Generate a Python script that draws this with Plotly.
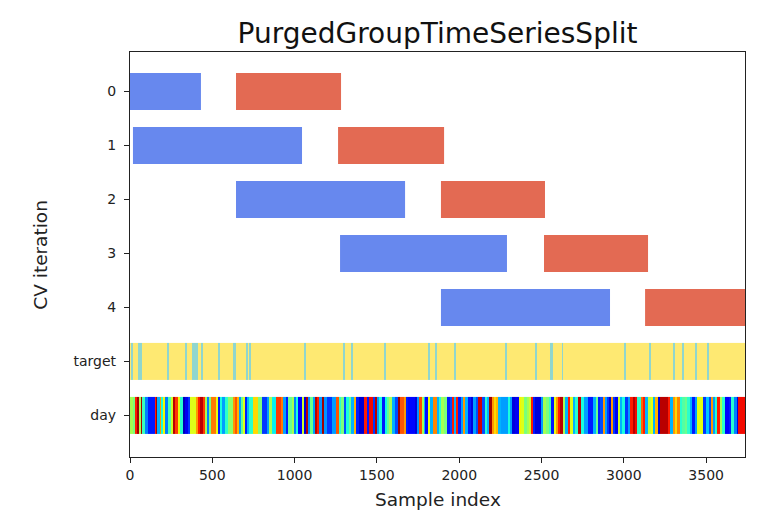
import numpy as np
import plotly.graph_objects as go

# ---------------- data ----------------
n_samples = 3736
row_labels = ["0", "1", "2", "3", "4", "target", "day"]

train_start = [0, 18, 644, 1276, 1889]
train_end = [431, 1045, 1671, 2290, 2916]
test_start = [644, 1264, 1889, 2515, 3129]
test_end = [1282, 1908, 2521, 3147, 3736]

# sample ranges where target == 1
target_pos_start = [8, 47, 227, 332, 378, 433, 535, 628, 703, 723, 1057, 1294, 1341, 1543,
                    1810, 1853, 1966, 2278, 2460, 2551, 2624, 3001, 3153, 3299, 3351, 3432, 3504]
target_pos_end = [20, 75, 239, 344, 411, 445, 547, 644, 715, 735, 1069, 1306, 1353, 1555,
                  1822, 1865, 1978, 2290, 2472, 2568, 2632, 3013, 3165, 3311, 3363, 3444, 3516]

# day groups: first sample of each group and its colour level (jet scale 0-1)
day_start = [0, 16, 33, 43, 53, 65, 75, 93, 109, 150, 160, 166, 182, 190, 199, 215, 231, 247, 261, 276,
             292, 304, 322, 336, 353, 365, 403, 413, 427, 444, 458, 470, 482, 494, 523, 535, 547, 559, 575, 596,
             624, 636, 652, 664, 676, 688, 701, 713, 725, 745, 780, 800, 830, 846, 861, 887, 915, 932, 948, 962,
             982, 996, 1008, 1023, 1043, 1057, 1069, 1081, 1093, 1110, 1126, 1138, 1150, 1164, 1179, 1195, 1230, 1251,
             1268, 1284, 1298, 1312, 1328, 1344, 1359, 1373, 1389, 1419, 1440, 1454, 1474, 1486, 1500, 1515, 1531,
             1547, 1561, 1575, 1592, 1608, 1628, 1642, 1662, 1677, 1689, 1733, 1743, 1758, 1774, 1784, 1794, 1808,
             1824, 1839, 1863, 1879, 1892, 1908, 1924, 1944, 1956, 1969, 1981, 1993, 2009, 2025, 2037, 2054, 2074,
             2086, 2100, 2114, 2141, 2155, 2167, 2181, 2201, 2212, 2224, 2236, 2252, 2297, 2309, 2323, 2337, 2363,
             2378, 2394, 2410, 2424, 2438, 2446, 2463, 2496, 2511, 2527, 2547, 2559, 2577, 2588, 2600, 2612, 2628,
             2640, 2658, 2675, 2693, 2705, 2719, 2739, 2760, 2784, 2814, 2831, 2843, 2855, 2871, 2885, 2899, 2912,
             2924, 2936, 2948, 2962, 2976, 2988, 3009, 3023, 3037, 3057, 3069, 3082, 3106, 3118, 3131, 3147, 3163,
             3177, 3191, 3208, 3220, 3268, 3280, 3299, 3313, 3325, 3339, 3355, 3370, 3386, 3400, 3414, 3430, 3442,
             3483, 3499, 3515, 3527, 3544, 3556, 3568, 3582, 3596, 3613, 3637, 3653, 3669, 3685, 3694]
day_level = [0.55, 0.5, 0.88, 0.97, 0.55, 0.97, 0.42, 0.25, 0.15, 0.88, 0.97, 0.3, 0.75, 0.38, 0.65, 0.25, 0.45, 0.6, 0.95, 0.85,
             0.63, 0.4, 0.05, 0.1, 0.18, 0.62, 0.75, 0.88, 0.95, 0.85, 0.55, 0.25, 0.5, 0.78, 0.63, 0.15, 0.38, 0.28, 0.4, 0.52,
             0.75, 0.82, 0.72, 0.28, 0.48, 0.62, 0.15, 0.3, 0.4, 0.68, 0.5, 0.18, 0.28, 0.55, 0.36, 0.85, 0.78, 0.28, 0.15, 0.48,
             0.55, 0.25, 0.38, 0.12, 0.6, 0.08, 0.95, 0.27, 0.48, 0.28, 0.95, 0.88, 0.27, 0.97, 0.27, 0.18, 0.28, 0.82,
             0.4, 0.5, 0.2, 0.38, 0.48, 0.3, 0.72, 0.15, 0.07, 0.88, 0.15, 0.9, 0.18, 0.95, 0.28, 0.38, 0.15,
             0.37, 0.47, 0.55, 0.3, 0.2, 0.97, 0.82, 0.75, 0.15, 0.13, 0.08, 0.27, 0.83, 0.55, 0.3, 0.13, 0.63,
             0.3, 0.77, 0.3, 0.4, 0.55, 0.5, 0.15, 0.2, 0.88, 0.3, 0.88, 0.15, 0.28, 0.75, 0.3, 0.15, 0.08,
             0.28, 0.2, 0.93, 0.2, 0.4, 0.3, 0.97, 0.75, 0.68, 0.72, 0.3, 0.28, 0.38, 0.28, 0.08, 0.1, 0.65,
             0.62, 0.5, 0.55, 0.6, 0.88, 0.15, 0.08, 0.28, 0.55, 0.5, 0.42, 0.15, 0.63, 0.75, 0.88, 0.95, 0.55,
             0.3, 0.88, 0.62, 0.3, 0.4, 0.95, 0.38, 0.28, 0.15, 0.3, 0.48, 0.15, 0.2, 0.75, 0.28, 0.18, 0.08,
             0.75, 0.18, 0.1, 0.6, 0.3, 0.38, 0.18, 0.28, 0.88, 0.95, 0.9, 0.4, 0.8, 0.88, 0.3, 0.58, 0.63,
             0.3, 0.72, 0.08, 0.95, 0.88, 0.3, 0.75, 0.68, 0.77, 0.4, 0.45, 0.48, 0.4, 0.3, 0.15, 0.28, 0.63,
             0.18, 0.32, 0.2, 0.75, 0.28, 0.4, 0.88, 0.55, 0.4, 0.12, 0.15, 0.4, 0.25, 0.08, 0.9]

# ---------------- styling ----------------
TRAIN_COLOR = "#6788EE"
TEST_COLOR = "#E36A53"
TARGET_COLORS = ["#FEE972", "#90D6CE"]
BAR_H = 0.685
FONT = "DejaVu Sans"


def mpl_jet():
    pts = [0, 0.11, 0.125, 0.34, 0.35, 0.375, 0.64, 0.65, 0.66, 0.89, 0.91, 1.0]
    r = np.interp(pts, [0, 0.35, 0.66, 0.89, 1], [0, 0, 1, 1, 0.5])
    g = np.interp(pts, [0, 0.125, 0.375, 0.64, 0.91, 1], [0, 0, 1, 1, 0, 0])
    b = np.interp(pts, [0, 0.11, 0.34, 0.65, 1], [0.5, 1, 1, 0, 0])
    return [[p, f"rgb({int(rr*255)},{int(gg*255)},{int(bb*255)})"] for p, rr, gg, bb in zip(pts, r, g, b)]


rows = [i + 0.5 for i in range(len(row_labels))]
cv_rows = rows[:5]

fig = go.Figure()

fig.add_trace(go.Bar(
    orientation="h", y=cv_rows,
    x=[e - s for s, e in zip(train_start, train_end)], base=train_start,
    width=BAR_H, marker=dict(color=TRAIN_COLOR, line=dict(width=0)),
    showlegend=False, hoverinfo="skip"))
fig.add_trace(go.Bar(
    orientation="h", y=cv_rows,
    x=[e - s for s, e in zip(test_start, test_end)], base=test_start,
    width=BAR_H, marker=dict(color=TEST_COLOR, line=dict(width=0)),
    showlegend=False, hoverinfo="skip"))

# target row
t_edges = [0]
t_vals = []
for s, e in zip(target_pos_start, target_pos_end):
    t_edges += [s, e]
    t_vals += [0, 1]
t_edges.append(n_samples)
t_vals.append(0)
fig.add_trace(go.Heatmap(
    x=t_edges, y=[rows[5] - BAR_H / 2, rows[5] + BAR_H / 2], z=[t_vals],
    zmin=0, zmax=1, colorscale=[[0, TARGET_COLORS[0]], [1, TARGET_COLORS[1]]],
    showscale=False, hoverinfo="skip"))

# day row
fig.add_trace(go.Heatmap(
    x=day_start + [n_samples], y=[rows[6] - BAR_H / 2, rows[6] + BAR_H / 2], z=[day_level],
    zmin=0, zmax=1, colorscale=mpl_jet(), showscale=False, hoverinfo="skip"))

axis_common = dict(showline=True, mirror=True, linecolor="#222", linewidth=1.2,
                   ticks="outside", ticklen=5, tickwidth=1.2, tickcolor="#222",
                   showgrid=False, zeroline=False,
                   tickfont=dict(family=FONT, size=14, color="#222"))

fig.update_layout(
    width=767, height=522,
    paper_bgcolor="white", plot_bgcolor="white",
    margin=dict(l=122, r=30, t=44, b=73),
    barmode="overlay",
    title=dict(text="PurgedGroupTimeSeriesSplit", x=0.5, xref="paper", xanchor="center",
               y=1 - 25 / 522, yanchor="middle",
               font=dict(family=FONT, size=28, color="#111")),
    xaxis=dict(range=[0, n_samples], tickvals=[0, 500, 1000, 1500, 2000, 2500, 3000, 3500],
               **axis_common),
    yaxis=dict(range=[len(row_labels) + 0.27, -0.23], tickvals=rows, ticktext=row_labels,
               ticklabelstandoff=5, **axis_common),
    annotations=[
        dict(text="Sample index", xref="paper", yref="paper", x=0.5, y=-0.106,
             xanchor="center", yanchor="middle", showarrow=False,
             font=dict(family=FONT, size=18.5, color="#222")),
        dict(text="CV iteration", xref="paper", yref="paper", x=-0.146, y=0.5,
             xanchor="center", yanchor="middle", textangle=-90, showarrow=False,
             font=dict(family=FONT, size=18.5, color="#222")),
    ],
)

fig.write_html("out.html")
